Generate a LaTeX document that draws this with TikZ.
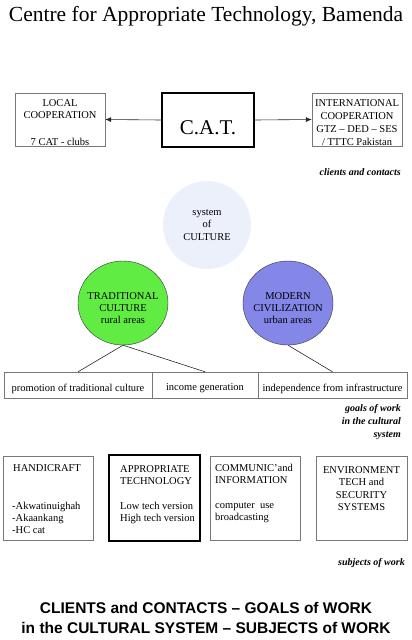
\documentclass[tikz,border=0pt]{standalone}
\usepackage{fontspec}
\setmainfont{Liberation Serif}
\newfontfamily\headsans[Ligatures=TeX]{Liberation Sans}
\usetikzlibrary{arrows.meta,shapes.geometric}

\definecolor{culturebg}{RGB}{236,240,251}
\definecolor{tradgreen}{RGB}{96,236,66}
\definecolor{modblue}{RGB}{132,134,232}
\definecolor{framegray}{RGB}{120,120,120}

\tikzset{
  txt/.style={inner sep=0pt, font=\fontsize{10.5}{12}\selectfont},
  note/.style={inner sep=0pt, font=\fontsize{10}{13}\selectfont\bfseries\itshape},
  thinbox/.style={draw=framegray, inner sep=0pt},
  thickbox/.style={draw=black, line width=1.6pt, inner sep=0pt},
  blob/.style={ellipse, draw=black!80, inner sep=0pt, minimum width=90pt, minimum height=84pt},
  link/.style={draw=black!85, line width=0.6pt}
}

\begin{document}
\begin{tikzpicture}[x=1pt,y=-1pt]
    \useasboundingbox (0,0) rectangle (412,640);

    \node[inner sep=0pt, font=\fontsize{21.5}{24}\selectfont] (title) at (206,16) {Centre for Appropriate Technology, Bamenda};

    % clients and contacts
    \node[thinbox, minimum width=90pt, minimum height=53pt] (local) at (60,119.5) {};
    \node[txt, align=center] at (60,109.5) {LOCAL\\COOPERATION};
    \node[txt] at (60,142) {7 CAT - clubs};

    \node[thickbox, minimum width=92pt, minimum height=54pt] (cat) at (208,120) {};
    \node[inner sep=0pt, font=\fontsize{21}{24}\selectfont] at (208,128) {C.A.T.};

    \node[thinbox, minimum width=90pt, minimum height=53pt] (intl) at (357,119.5) {};
    \node[txt, align=center, font=\fontsize{10.5}{13}\selectfont] at (357,122.5) {INTERNATIONAL\\COOPERATION\\GTZ -- DED -- SES\\/ TTTC Pakistan};

    \draw[link,-{Latex[length=6pt,width=5pt]}] (cat.west) -- (local.east);
    \draw[link,-{Latex[length=6pt,width=5pt]}] (cat.east) -- (intl.west);

    \node[note, anchor=east] at (401,172) {clients and contacts};

    % system of culture
    \node[circle, fill=culturebg, minimum size=88pt, inner sep=0pt, align=center, font=\fontsize{10.5}{12.5}\selectfont] (culture) at (207,225) {system\\of\\CULTURE};

    \node[blob, fill=tradgreen] (trad) at (123,303) {};
    \node[txt, align=center] at (123,308.5) {TRADITIONAL\\CULTURE\\rural areas};

    \node[blob, fill=modblue] (modern) at (288,303) {};
    \node[txt, align=center] at (288,308.5) {MODERN\\CIVILIZATION\\urban areas};

    % goals of work
    \node[thinbox, minimum width=148pt, minimum height=26pt] (promo) at (78,385) {};
    \node[thinbox, minimum width=106pt, minimum height=26pt] (income) at (205,385) {};
    \node[thinbox, minimum width=149pt, minimum height=26pt] (indep) at (332.5,385) {};
    \node[txt] at (78,389) {promotion of traditional culture};
    \node[txt] at (205,388) {income generation};
    \node[txt] at (332.5,389) {independence from infrastructure};

    \draw[link] (trad.south) -- (promo.north);
    \draw[link] (trad.south) -- (income.north);
    \draw[link] (modern.south) -- (indep.north);

    \node[note, anchor=north east, align=right] at (401,404.5) {goals of work\\in the cultural\\system};

    % subjects of work
    \node[thinbox, minimum width=90pt, minimum height=84pt] (handi) at (48,498) {};
    \node[thickbox, minimum width=91pt, minimum height=86pt] (approp) at (154.5,498) {};
    \node[thinbox, minimum width=90pt, minimum height=84pt] (comm) at (255,498) {};
    \node[thinbox, minimum width=91pt, minimum height=84pt] (envi) at (361.5,498) {};

    \node[txt, anchor=west] at (13,468) {HANDICRAFT};
    \node[txt, anchor=north west, align=left] at (12,502) {-Akwatinuighah\\-Akaankang\\-HC cat};

    \node[txt, anchor=north west, align=left, font=\fontsize{10.5}{12.5}\selectfont] at (120,465) {APPROPRIATE\\TECHNOLOGY};
    \node[txt, anchor=north west, align=left, font=\fontsize{10.5}{12.5}\selectfont] at (120,502) {Low tech version\\High tech version};

    \node[txt, anchor=north west, align=left, font=\fontsize{10.5}{12.5}\selectfont] at (215,464) {COMMUNIC'and\\INFORMATION};
    \node[txt, anchor=north west, align=left, font=\fontsize{10.5}{12.5}\selectfont] at (215,502) {computer~~use\\broadcasting};

    \node[txt, anchor=north, align=center, font=\fontsize{10.5}{12.5}\selectfont] at (361.5,466) {ENVIRONMENT\\TECH and\\SECURITY\\SYSTEMS};

    \node[note, anchor=east] at (405,563) {subjects of work};

    \node[inner sep=0pt, align=center, font=\headsans\bfseries\fontsize{15.5}{20}\selectfont] (caption) at (206,618) {CLIENTS and CONTACTS -- GOALS of WORK\\in the CULTURAL SYSTEM -- SUBJECTS of WORK};

\end{tikzpicture}
\end{document}
